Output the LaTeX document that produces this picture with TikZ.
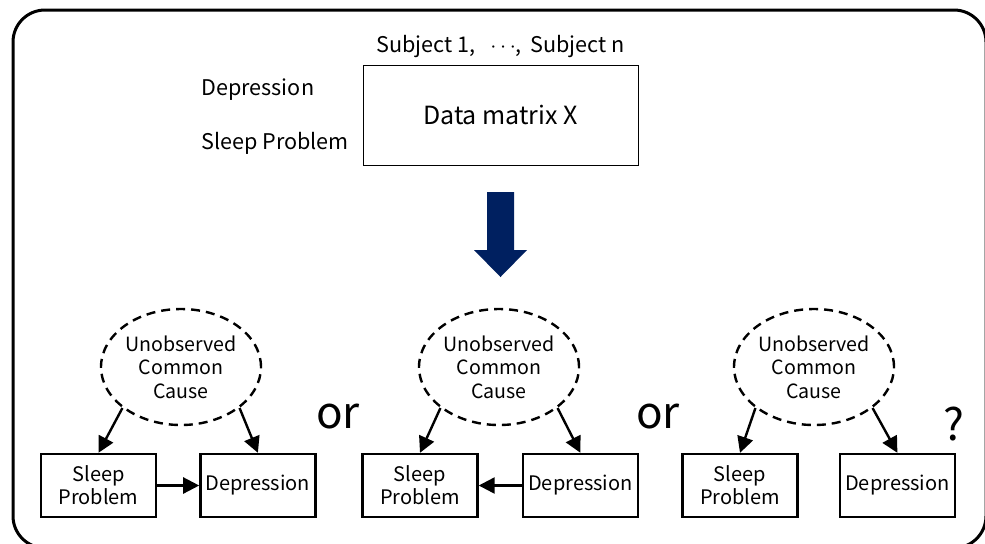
\documentclass[tikz,border=0pt]{standalone}
\usepackage{fontspec}
\setmainfont{Noto Sans CJK JP}
\usetikzlibrary{positioning, arrows.meta, shapes.geometric}
\definecolor{arrownavy}{RGB}{0,32,96}

\begin{document}
\begin{tikzpicture}[
    x=0.5pt, y=-0.5pt,
    var_box/.style={rectangle, draw, line width=1.2pt, minimum width=57.5pt, minimum height=31.5pt, inner sep=1pt, align=center, font=\fontsize{10}{11.5}\selectfont},
    cause_ell/.style={ellipse, draw, dash pattern=on 4.5pt off 3pt, line width=1.2pt, minimum width=80pt, minimum height=58pt, inner sep=0pt, align=center, font=\fontsize{9.8}{11.75}\selectfont},
    edge_path/.style={-{Triangle[length=8pt, width=8pt]}, line width=1.2pt},
    row_txt/.style={anchor=west, inner sep=0pt, font=\fontsize{10.8}{13}\selectfont},
    or_txt/.style={inner sep=0pt, font=\fontsize{22}{26}\selectfont}
  ]
    \useasboundingbox (0,0) rectangle (985,543);
    \draw[line width=1.5pt, rounded corners=16pt] (13,10) rectangle (986,548);

    % data matrix
    \node[rectangle, draw, line width=0.5pt, minimum width=137.5pt, minimum height=50pt, font=\fontsize{12.5}{15}\selectfont] (X) at (500.5,115) {Data matrix X};
    \node[above=3pt of X, inner sep=0pt, font=\fontsize{10.8}{13}\selectfont] (subj) {Subject 1,\hspace{0.7em}$\cdots$,\hspace{0.4em}Subject n};
    \node[row_txt] (rowD) at (201,90) {Depression};
    \node[row_txt] (rowS) at (201,143) {Sleep Problem};

    \fill[arrownavy] (487,192) -- (514,192) -- (514,250) -- (527,250) -- (500.5,277) -- (474,250) -- (487,250) -- cycle;

    % sleep -> depression
    \node[cause_ell] (U1) at (181,367) {Unobserved\\Common\\Cause};
    \node[var_box] (S1) at (98.5,485.5) {Sleep\\Problem};
    \node[var_box, right=21pt of S1] (D1) {Depression};

    \node[or_txt] (or1) at (338,417) {or};

    % depression -> sleep
    \node[cause_ell] (U2) at (499,367) {Unobserved\\Common\\Cause};
    \node[var_box] (S2) at (420,485.5) {Sleep\\Problem};
    \node[var_box, right=21.5pt of S2] (D2) {Depression};

    \node[or_txt] (or2) at (658,417) {or};

    % no direct edge
    \node[cause_ell] (U3) at (814,367) {Unobserved\\Common\\Cause};
    \node[var_box] (S3) at (740,485.5) {Sleep\\Problem};
    \node[var_box, right=20pt of S3] (D3) {Depression};

    \node[inner sep=0pt, font=\fontsize{22}{26}\selectfont] (q) at (954,424) {?};

    \draw[edge_path] (U1.215) to (S1.north);
    \draw[edge_path] (U1.325) to (D1.north);
    \draw[edge_path] (S1) to (D1);

    \draw[edge_path] (U2.215) to (S2.north);
    \draw[edge_path] (U2.325) to (D2.north);
    \draw[edge_path] (D2) to (S2);

    \draw[edge_path] (U3.215) to (S3.north);
    \draw[edge_path] (U3.325) to (D3.north);
  \end{tikzpicture}
\end{document}
